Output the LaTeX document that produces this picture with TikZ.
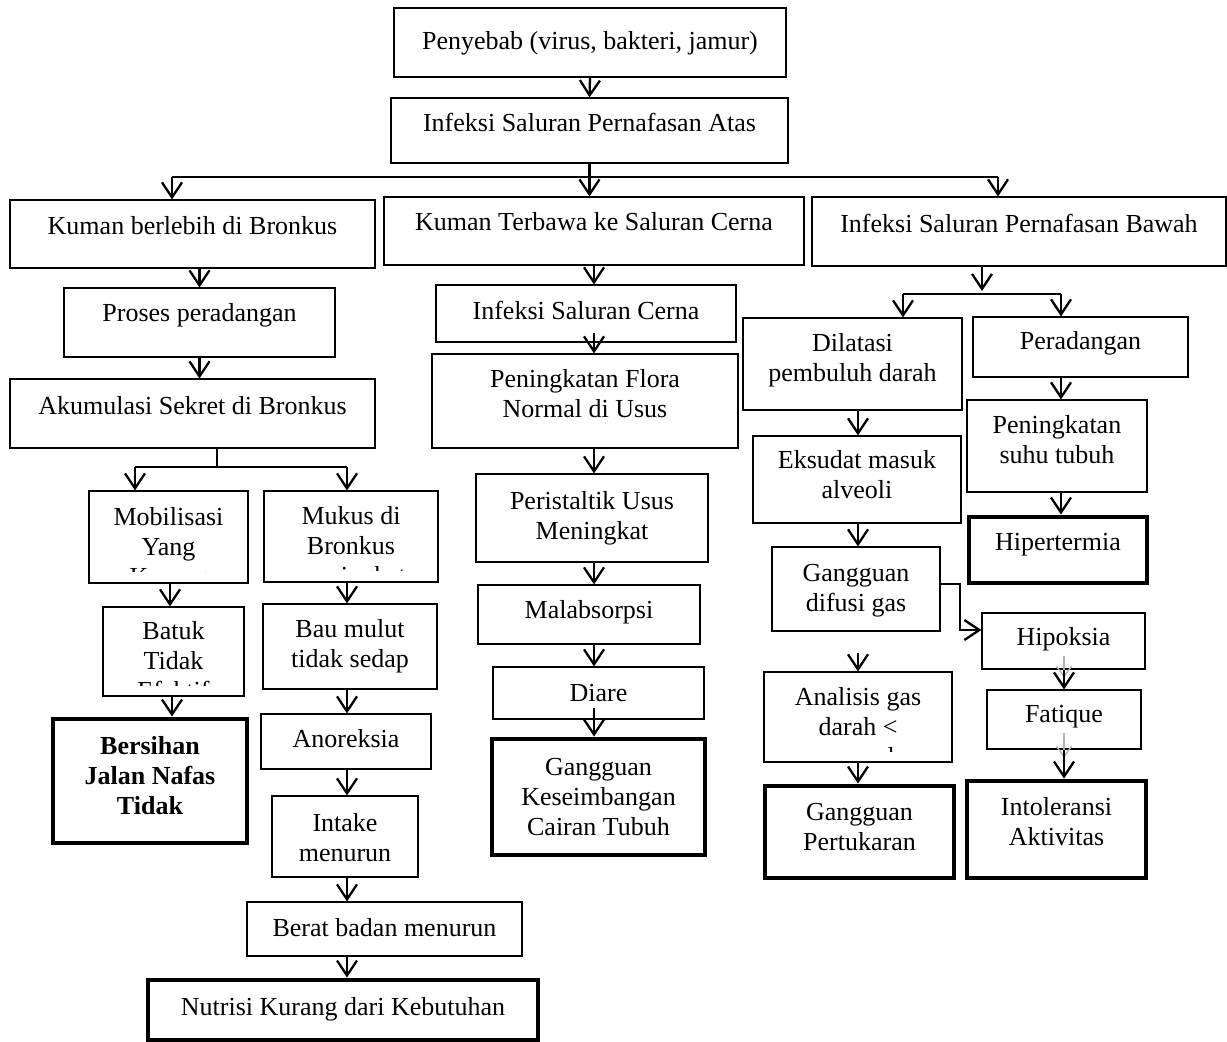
\documentclass[tikz,border=0pt]{standalone}
\usepackage{fontspec}
\setmainfont{Liberation Serif}
\usetikzlibrary{arrows.meta,fit,calc}
\tikzset{
  box/.style={draw, line width=1.2pt, inner sep=0pt},
  thickbox/.style={draw, line width=4.8pt, inner sep=0pt},
  txt/.style={anchor=base, align=center, inner sep=0pt, font=\fontsize{26}{30}\selectfont},
  arr/.style={line width=2.3pt, -{Straight Barb[length=15pt,width=20pt]}},
  bar/.style={line width=2.4pt},
  ghost/.style={draw=gray!60, line width=1.4pt, -{Straight Barb[length=10pt,width=15pt]}}
}
% #2 = distance from box top to baseline of the LAST text line
\newcommand{\mkbox}[6]{\node[#1, fit={(#3,#4) (#5,#6)}] (#2) {};}
\newcommand{\mktext}[3]{\node[txt] at ([yshift=-#2pt]#1.north) {#3};}
\begin{document}
\begin{tikzpicture}[x=1pt,y=-1pt]
\useasboundingbox (0,0) rectangle (1227,1042);
% ---- top
\mkbox{box}{pen}{394}{8}{786}{77}
\mktext{pen}{42}{Penyebab (virus, bakteri, jamur)}
\mkbox{box}{ispa}{391}{98}{788}{163}
\mktext{ispa}{34}{Infeksi Saluran Pernafasan Atas}
\mkbox{box}{kb}{10}{200}{375}{268}
\mktext{kb}{35}{Kuman berlebih di Bronkus}
\mkbox{box}{kt}{384}{197}{804}{265}
\mktext{kt}{34}{Kuman Terbawa ke Saluran Cerna}
\mkbox{box}{spb}{812}{197}{1226}{266}
\mktext{spb}{36}{Infeksi Saluran Pernafasan Bawah}
% ---- left column
\mkbox{box}{pp}{64}{288}{335}{357}
\mktext{pp}{34}{Proses peradangan}
\mkbox{box}{aks}{10}{379}{375}{448}
\mktext{aks}{36}{Akumulasi Sekret di Bronkus}
\mkbox{box}{mob}{89}{491}{248}{583}
\begin{scope}\clip (89,491) rectangle (248,571);
\mktext{mob}{95}{Mobilisasi\\Yang\\Kurang}
\end{scope}
\mkbox{box}{muk}{264}{491}{438}{582}
\begin{scope}\clip (264,491) rectangle (438,570);
\mktext{muk}{94}{Mukus di\\Bronkus\\meningkat}
\end{scope}
\mkbox{box}{bat}{103}{607}{244}{696}
\begin{scope}\clip (103,607) rectangle (244,685);
\mktext{bat}{93}{Batuk\\Tidak\\Efektif}
\end{scope}
\mkbox{box}{bau}{263}{604}{437}{689}
\mktext{bau}{64}{Bau mulut\\tidak sedap}
\mkbox{thickbox}{ber}{53}{719}{247}{843}
\mktext{ber}{98}{\bfseries Bersihan\\\bfseries Jalan Nafas\\\bfseries Tidak}
\mkbox{box}{ano}{261}{714}{431}{769}
\mktext{ano}{34}{Anoreksia}
\mkbox{box}{int}{272}{796}{418}{877}
\mktext{int}{66}{Intake\\menurun}
\mkbox{box}{bb}{247}{902}{522}{956}
\mktext{bb}{35}{Berat badan menurun}
\mkbox{thickbox}{nut}{148}{980}{538}{1040}
\mktext{nut}{38}{Nutrisi Kurang dari Kebutuhan}
% ---- middle column
\mkbox{box}{isc}{436}{285}{736}{342}
\mktext{isc}{35}{Infeksi Saluran Cerna}
\mkbox{box}{flo}{432}{354}{738}{448}
\mktext{flo}{64}{Peningkatan Flora\\Normal di Usus}
\mkbox{box}{per}{476}{474}{708}{562}
\mktext{per}{66}{Peristaltik Usus\\Meningkat}
\mkbox{box}{mal}{478}{585}{700}{644}
\mktext{mal}{34}{Malabsorpsi}
\mkbox{box}{dia}{493}{667}{704}{719}
\mktext{dia}{35}{Diare}
\mkbox{thickbox}{gk}{492}{739}{705}{855}
\mktext{gk}{99}{Gangguan\\Keseimbangan\\Cairan Tubuh}
% ---- right part
\mkbox{box}{dil}{743}{318}{962}{410}
\mktext{dil}{64}{Dilatasi\\pembuluh darah}
\mkbox{box}{prd}{973}{317}{1188}{377}
\mktext{prd}{33}{Peradangan}
\mkbox{box}{eks}{753}{436}{961}{523}
\mktext{eks}{63}{Eksudat masuk\\alveoli}
\mkbox{box}{suhu}{967}{400}{1147}{492}
\mktext{suhu}{64}{Peningkatan\\suhu tubuh}
\mkbox{thickbox}{hip}{969}{517}{1147}{583}
\mktext{hip}{36}{Hipertermia}
\mkbox{box}{gdg}{772}{547}{940}{631}
\mktext{gdg}{65}{Gangguan\\difusi gas}
\mkbox{box}{hpk}{982}{613}{1145}{669}
\mktext{hpk}{33}{Hipoksia}
\mkbox{box}{fat}{987}{690}{1141}{749}
\mktext{fat}{33}{Fatique}
\mkbox{box}{ana}{764}{672}{952}{762}
\begin{scope}\clip (764,672) rectangle (952,751);
\mktext{ana}{94}{Analisis gas\\darah <\\normal}
\end{scope}
\mkbox{thickbox}{gp}{765}{786}{954}{878}
\mktext{gp}{67}{Gangguan\\Pertukaran}
\mkbox{thickbox}{into}{967}{781}{1146}{878}
\mktext{into}{67}{Intoleransi\\Aktivitas}
% ---- connectors: top
\draw[arr] (pen.south) -- (ispa.north);
\coordinate (tL) at (172,177);
\coordinate (tR) at (998,177);
\draw[bar] (tL) -- (tR);
\draw[arr] (tL) -- (tL |- kb.north);
\draw[arr] (tR) -- (tR |- spb.north);
\draw[arr] (ispa.south) -- (ispa.south |- kt.north);
% ---- left column
\draw[arr] (kb.south -| pp.north) -- (pp.north);
\draw[arr] (pp.south) -- (pp.south |- aks.north);
\coordinate (aJ) at (217,467);
\coordinate (aL) at (135,467);
\coordinate (aR) at (347,467);
\draw[bar] (aJ |- aks.south) -- (aJ);
\draw[bar] (aL) -- (aR);
\draw[arr] (aL) -- (aL |- mob.north);
\draw[arr] (aR) -- (aR |- muk.north);
\coordinate (cA) at (170,0);
\draw[arr] (cA |- mob.south) -- (cA |- bat.north);
\coordinate (cA2) at (172,0);
\draw[arr] (cA2 |- bat.south) -- (cA2 |- ber.north);
\coordinate (cB) at (347,0);
\draw[arr] (cB |- muk.south) -- (cB |- bau.north);
\draw[arr] (cB |- bau.south) -- (cB |- ano.north);
\draw[arr] (cB |- ano.south) -- (cB |- int.north);
\draw[arr] (cB |- int.south) -- (cB |- bb.north);
\draw[arr] (cB |- bb.south) -- (cB |- nut.north);
% ---- middle column
\coordinate (cC) at (594,0);
\draw[arr] (cC |- kt.south) -- (cC |- isc.north);
\draw[arr, shorten <=-10pt] (cC |- isc.south) -- (cC |- flo.north);
\draw[arr] (cC |- flo.south) -- (cC |- per.north);
\draw[arr] (cC |- per.south) -- (cC |- mal.north);
\draw[arr] (cC |- mal.south) -- (cC |- dia.north);
\draw[arr, shorten <=-12pt] (cC |- dia.south) -- (cC |- gk.north);
% ---- right part
\coordinate (cG) at (982,291);
\draw[arr] (cG |- spb.south) -- (cG);
\coordinate (rL) at (903,294);
\coordinate (rR) at (1061,294);
\draw[bar] (rL) -- (rR);
\draw[arr] (rL) -- (rL |- dil.north);
\draw[arr] (rR) -- (rR |- prd.north);
\coordinate (cD) at (858,0);
\draw[arr] (cD |- dil.south) -- (cD |- eks.north);
\draw[arr] (cD |- eks.south) -- (cD |- gdg.north);
\draw[arr, shorten <=21pt] (cD |- gdg.south) -- (cD |- ana.north);
\draw[arr] (cD |- ana.south) -- (cD |- gp.north);
\coordinate (elb) at (960,630);
\draw[arr] ([yshift=5pt]gdg.east) -| (elb) -- (elb -| hpk.west);
\coordinate (cE) at (1061,0);
\draw[arr] (cE |- prd.south) -- (cE |- suhu.north);
\draw[arr] (cE |- suhu.south) -- (cE |- hip.north);
\coordinate (cF) at (1064,0);
\draw[ghost] ($(cF |- hpk.south)+(0,-14)$) -- ($(cF |- hpk.south)+(0,8)$);
\draw[arr] (cF |- hpk.south) -- (cF |- fat.north);
\draw[ghost] ($(cF |- fat.south)+(0,-17)$) -- ($(cF |- fat.south)+(0,8)$);
\draw[arr] (cF |- fat.south) -- (cF |- into.north);
\end{tikzpicture}
\end{document}
